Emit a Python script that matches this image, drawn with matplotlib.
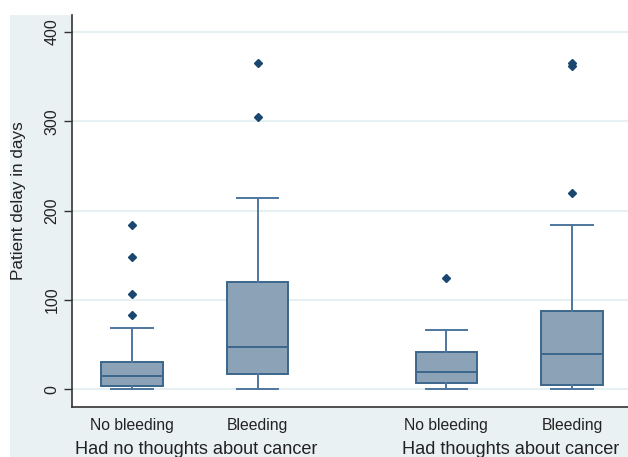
import matplotlib
matplotlib.use("Agg")
import matplotlib.pyplot as plt
from matplotlib.patches import Rectangle

plt.rcParams['font.family'] = ['Liberation Sans', 'DejaVu Sans']

# Data
categories = ["No bleeding", "Bleeding", "No bleeding", "Bleeding"]
groups = ["Had no thoughts about cancer", "Had thoughts about cancer"]
whislo = [0, 0, 0, 0]
q1 = [4, 17, 7, 5]
med = [15, 47, 19.5, 39]
q3 = [30.5, 119.5, 41.5, 87.5]
whishi = [68.5, 214, 66.5, 183.5]
fliers = [[83, 106.5, 148, 184], [305, 365], [125], [220, 362, 365]]
positions = [1, 2, 3.5, 4.5]
yticks = [0, 100, 200, 300, 400]

W, H = 628, 457
fig = plt.figure(figsize=(W / 100, H / 100), dpi=100)
fig.patch.set_facecolor('white')
bgcol = '#EAF1F3'
fig.patches.append(Rectangle((10 / W, 0), 1 - 10 / W, 1 - 15 / H,
                             transform=fig.transFigure, facecolor=bgcol,
                             edgecolor='none', zorder=-10))
# white plot region above the axes top (reference plot region runs to the edge)
fig.patches.append(Rectangle((72 / W, 1 - 15 / H), 1 - 72 / W, 15 / H,
                             transform=fig.transFigure, facecolor='white',
                             edgecolor='none', zorder=-9))

ax = fig.add_axes([72 / W, (H - 407) / H, 1 - 72 / W, (407 - 15) / H])
ax.set_facecolor('white')

stats = []
for i in range(len(categories)):
    stats.append(dict(whislo=whislo[i], q1=q1[i], med=med[i], q3=q3[i],
                      whishi=whishi[i], fliers=fliers[i], label=categories[i]))

edge = '#3C668C'
wcol = '#4E769E'
ax.bxp(stats, positions=positions, widths=0.49, patch_artist=True,
       capwidths=0.33,
       boxprops=dict(facecolor='#8BA2B7', edgecolor=edge, linewidth=1.4),
       medianprops=dict(color=edge, linewidth=1.4),
       whiskerprops=dict(color=wcol, linewidth=1.4),
       capprops=dict(color=wcol, linewidth=1.4),
       flierprops=dict(marker='D', markerfacecolor='#1A476F',
                       markeredgecolor='#1A476F', markersize=4),
       zorder=3)

ax.set_xlim(0.524, 4.944)
ax.set_ylim(-20, 419)
ax.set_yticks(yticks)
ax.set_yticklabels([str(v) for v in yticks], rotation=90, va='center',
                   fontsize=11.5, color='#222222')
ax.yaxis.grid(True, color='#E6EFF1', linewidth=1.5, zorder=0)
ax.set_axisbelow(True)
ax.tick_params(axis='y', length=6, width=1, color='#333333', pad=3)
ax.tick_params(axis='x', length=0, pad=8)
ax.set_xticks(positions)
ax.set_xticklabels(categories, fontsize=11.3, color='#222222')

for s in ['top', 'right']:
    ax.spines[s].set_visible(False)
for s in ['left', 'bottom']:
    ax.spines[s].set_color('#333333')
    ax.spines[s].set_linewidth(1.2)

ax.set_ylabel("Patient delay in days", fontsize=12.3, color='#222222')
ax.yaxis.set_label_coords(-(72 - 26) / (W - 72), (407 - 201) / (407 - 15))

fig.text(196 / W, 1 - 449 / H, groups[0], ha='center', va='center',
         fontsize=13.1, color='#222222')
fig.text(511 / W, 1 - 449 / H, groups[1], ha='center', va='center',
         fontsize=13.1, color='#222222')

fig.savefig("out.png", dpi=100, facecolor=fig.get_facecolor())
